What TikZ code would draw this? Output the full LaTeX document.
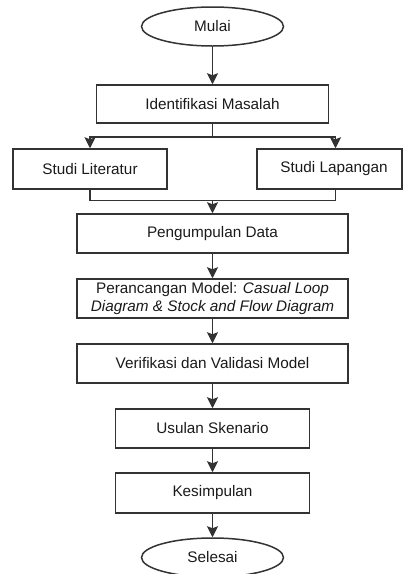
\documentclass[tikz,border=0pt]{standalone}
\usepackage{fontspec}
\setmainfont{Liberation Sans}
\usetikzlibrary{shapes.geometric,arrows.meta,calc}
\definecolor{linec}{HTML}{333333}
\definecolor{textc}{HTML}{1A1A1A}
\begin{document}
\begin{tikzpicture}[x=1pt,y=-1pt,
  box/.style={draw=linec, line width=1.5pt, rectangle, inner sep=0pt, align=center,
    font=\fontsize{15.3}{17.5}\selectfont, text=textc},
  term/.style={ellipse, draw=linec, line width=1.5pt, inner sep=0pt,
    minimum width=142pt, minimum height=39pt,
    font=\fontsize{15.3}{17.5}\selectfont, text=textc},
  arr/.style={draw=linec, line width=1.5pt, -{Stealth[length=11pt,width=11pt,inset=2pt]}},
  conn/.style={draw=linec, line width=1.5pt}]
\useasboundingbox (0,0) rectangle (404,574);
\node[term] (mulai) at (212.5,26.5) {Mulai};
\node[box, minimum width=232pt, minimum height=38pt] (ident) at (212.5,104) {Identifikasi Masalah};
\node[box, minimum width=154pt, minimum height=40pt] (lit) at (90,169) {Studi Literatur};
\node[box, minimum width=145pt, minimum height=40pt] (lap) at (329.5,169) {\hspace*{9pt}Studi Lapangan};
\node[box, minimum width=271pt, minimum height=39pt] (pd) at (212.5,233.5) {Pengumpulan Data};
\node[box, minimum width=271pt, minimum height=39pt] (model) at (212.5,298.5)
  {Perancangan Model: \textit{Casual Loop}\\\textit{Diagram \& Stock and Flow Diagram}};
\node[box, minimum width=271pt, minimum height=39pt] (verif) at (212.5,363.5) {Verifikasi dan Validasi Model};
\node[box, minimum width=194pt, minimum height=39pt] (usul) at (212.5,428.5) {Usulan Skenario};
\node[box, minimum width=194pt, minimum height=40pt] (kes) at (212.5,493) {Kesimpulan};
\node[term] (sel) at (212.5,557.5) {Selesai};

\draw[arr] (mulai) -- (ident);
\coordinate (split) at ($(ident.south)+(0,13)$);
\coordinate (lapin) at ($(lap.north)+(6,0)$);
\coordinate (lapout) at ($(lap.south)+(6,0)$);
\draw[conn] (ident.south) -- (split);
\draw[arr] (split) -| (lit.north);
\draw[arr] (split) -| (lapin);
\coordinate (join) at ($(pd.north)+(0,-13)$);
\draw[conn] (lit.south) |- (join);
\draw[conn] (lapout) |- (join);
\draw[arr] (join) -- (pd.north);
\draw[arr] (pd) -- (model);
\draw[arr] (model) -- (verif);
\draw[arr] (verif) -- (usul);
\draw[arr] (usul) -- (kes);
\draw[arr] (kes) -- (sel);
\end{tikzpicture}
\end{document}
